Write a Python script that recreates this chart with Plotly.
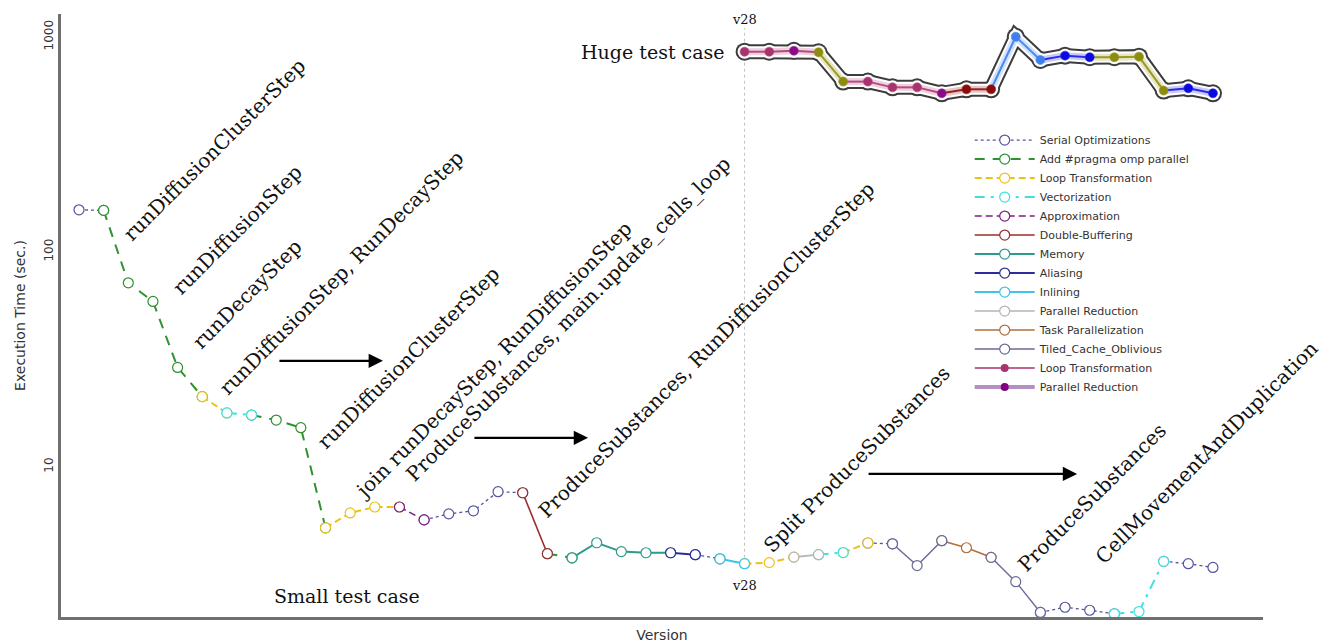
import math
import plotly.graph_objects as go

# ---------------- data ----------------
versions = list(range(1, 48))
small_time = [157, 156, 71.8, 58.8, 29.0, 21.2, 17.8, 17.4, 16.5, 15.2,
              5.2, 6.1, 6.5, 6.5, 5.66, 6.04, 6.24, 7.66, 7.57, 3.94,
              3.77, 4.43, 4.03, 3.98, 3.98, 3.90, 3.73, 3.54, 3.58, 3.80,
              3.90, 3.99, 4.42, 4.38, 3.47, 4.53, 4.20, 3.79, 2.92, 2.10,
              2.22, 2.15, 2.07, 2.12, 3.63, 3.54, 3.40]
# optimisation applied between version i and i+1 (46 steps)
small_step = (["Serial Optimizations"] + ["Add #pragma omp parallel"] * 4 +
              ["Loop Transformation", "Vectorization"] +
              ["Add #pragma omp parallel"] * 3 + ["Loop Transformation"] * 3 +
              ["Approximation"] + ["Serial Optimizations"] * 4 +
              ["Double-Buffering", "Add #pragma omp parallel"] + ["Memory"] * 4 +
              ["Aliasing", "Serial Optimizations", "Inlining"] +
              ["Loop Transformation"] * 2 + ["Parallel Reduction", "Vectorization",
              "Loop Transformation", "Serial Optimizations"] +
              ["Tiled_Cache_Oblivious"] * 2 + ["Task Parallelization"] * 2 +
              ["Tiled_Cache_Oblivious"] * 2 + ["Serial Optimizations"] * 3 +
              ["Vectorization"] * 2 + ["Serial Optimizations"] * 2)

categories = ["Serial Optimizations", "Add #pragma omp parallel", "Loop Transformation",
              "Vectorization", "Approximation", "Double-Buffering", "Memory", "Aliasing",
              "Inlining", "Parallel Reduction", "Task Parallelization", "Tiled_Cache_Oblivious"]

huge_versions = list(range(28, 48))
huge_time = [854, 854, 863, 849, 620, 620, 583, 583, 547, 571,
             571, 1003, 782, 819, 805, 805, 810, 563, 577, 547]
huge_point_kind = ["LT", "LT", "PR", "OL", "OL", "LT", "LT", "LT", "PR", "DB",
                   "DB", "IN", "IN", "AL", "AL", "OL", "OL", "OL", "AL", "AL"]
huge_step_kind = ["LT", "LT", "LT", "OL", "LT", "LT", "LT", "LT", "DB", "DB",
                  "IN", "IN", "AL", "AL", "OL", "OL", "OL", "AL", "AL"]

labels = ["runDiffusionClusterStep", "runDiffusionStep", "runDecayStep",
          "runDiffusionStep, RunDecayStep", "runDiffusionClusterStep",
          "join runDecayStep, RunDiffusionStep", "ProduceSubstances, main.update_cells_loop",
          "ProduceSubstances, RunDiffusionClusterStep", "Split ProduceSubstances",
          "ProduceSubstances", "CellMovementAndDuplication"]
label_x = [6.48, 7.41, 7.82, 11.63, 14.35, 17.8, 20.84, 26.44, 32.56, 42.1, 46.75]
label_logy = [2.474, 2.102, 1.805, 1.902, 1.507, 1.498, 1.688, 1.544, 1.037, 0.860, 1.07]

arrow_x0 = [9.07, 16.98, 32.97]
arrow_x1 = [13.33, 21.65, 41.49]
arrow_logy = [1.493, 1.135, 0.967]

# ---------------- styles ----------------
small_style = {
    "Serial Optimizations": dict(color="#55559e", dash="dot", width=1.3),
    "Add #pragma omp parallel": dict(color="#2f9130", dash="10px,8px", width=2),
    "Loop Transformation": dict(color="#ecc21a", dash="7px,4px", width=2),
    "Vectorization": dict(color="#3fe0e0", dash="10px,6px,3px,6px", width=2),
    "Approximation": dict(color="#7d1d86", dash="7px,4px", width=1.6),
    "Double-Buffering": dict(color="#9a2e2e", dash="solid", width=1.6),
    "Memory": dict(color="#2e9a8a", dash="solid", width=2),
    "Aliasing": dict(color="#2c2c9c", dash="solid", width=2),
    "Inlining": dict(color="#3fc4e6", dash="solid", width=2),
    "Parallel Reduction": dict(color="#b4b4b4", dash="solid", width=1.6),
    "Task Parallelization": dict(color="#b06e3a", dash="solid", width=1.6),
    "Tiled_Cache_Oblivious": dict(color="#6a6a98", dash="solid", width=1.4),
}
huge_style = {
    "LT": dict(point="#a8336e", line="#b8487f"),
    "PR": dict(point="#8a0a8a", line="#9a3a9a"),
    "OL": dict(point="#8c8c10", line="#9a9a20"),
    "DB": dict(point="#8b0a0a", line="#9a2020"),
    "IN": dict(point="#3f7ff0", line="#4a88f2"),
    "AL": dict(point="#0a0ae0", line="#2a2ae8"),
}

fig = go.Figure()

# ---------- small test case ----------
for cat in categories:
    st = small_style[cat]
    xs, ys = [], []
    i = 0
    n = len(small_step)
    while i < n:
        if small_step[i] == cat:
            j = i
            while j + 1 < n and small_step[j + 1] == cat:
                j += 1
            for k in range(i, j + 2):
                xs.append(versions[k])
                ys.append(small_time[k])
            xs.append(None)
            ys.append(None)
            i = j + 1
        else:
            i += 1
    fig.add_trace(go.Scatter(
        x=xs, y=ys, mode="lines+markers", name=cat,
        line=dict(color=st["color"], dash=st["dash"], width=st["width"]),
        marker=dict(symbol="circle", size=10, color="white",
                    line=dict(color=st["color"], width=1.2)),
        connectgaps=False))

# ---------- huge test case (haloed) ----------
fig.add_trace(go.Scatter(x=huge_versions, y=huge_time, mode="lines+markers",
                         line=dict(color="#3c3c3c", width=15),
                         marker=dict(size=18, color="#3c3c3c"),
                         showlegend=False, hoverinfo="skip"))
fig.add_trace(go.Scatter(x=huge_versions, y=huge_time, mode="lines+markers",
                         line=dict(color="#ffffff", width=11),
                         marker=dict(size=14, color="#ffffff"),
                         showlegend=False, hoverinfo="skip"))

def hex_rgba(h, a):
    h = h.lstrip("#")
    return "rgba(%d,%d,%d,%.2f)" % (int(h[0:2], 16), int(h[2:4], 16), int(h[4:6], 16), a)

for kind, st in huge_style.items():
    xs, ys = [], []
    for k, s in enumerate(huge_step_kind):
        if s == kind:
            xs += [huge_versions[k], huge_versions[k + 1], None]
            ys += [huge_time[k], huge_time[k + 1], None]
    if xs:
        fig.add_trace(go.Scatter(x=xs, y=ys, mode="lines",
                                 line=dict(color=hex_rgba(st["line"], 0.25), width=7),
                                 showlegend=False, hoverinfo="skip"))
        fig.add_trace(go.Scatter(x=xs, y=ys, mode="lines",
                                 line=dict(color=st["line"], width=2),
                                 showlegend=False, hoverinfo="skip"))

for kind, st in huge_style.items():
    xs = [huge_versions[k] for k, p in enumerate(huge_point_kind) if p == kind]
    ys = [huge_time[k] for k, p in enumerate(huge_point_kind) if p == kind]
    fig.add_trace(go.Scatter(x=xs, y=ys, mode="markers",
                             marker=dict(size=9, color=st["point"],
                                         line=dict(color=hex_rgba(st["line"], 0.6), width=1)),
                             showlegend=False))

# legend entries for the filled-marker series
fig.add_trace(go.Scatter(x=[None], y=[None], mode="lines+markers", name="Loop Transformation",
                         line=dict(color="#a8336e", width=1.5),
                         marker=dict(size=8, color="#a8336e")))
fig.add_trace(go.Scatter(x=[None], y=[None], mode="lines+markers", name="Parallel Reduction",
                         line=dict(color="#b58ec4", width=4),
                         marker=dict(size=8, color="#800080")))

# ---------------- annotations ----------------
serif = "DejaVu Serif"
ann = []
for t, x, ly in zip(labels, label_x, label_logy):
    ann.append(dict(x=x, y=ly, xref="x", yref="y", text=t, showarrow=False,
                    textangle=-45, xanchor="center", yanchor="middle",
                    font=dict(family=serif, size=20, color="#111")))
for x0, x1, ly in zip(arrow_x0, arrow_x1, arrow_logy):
    ann.append(dict(x=x1, y=ly, ax=x0, ay=ly, xref="x", yref="y", axref="x", ayref="y",
                    text="", showarrow=True, arrowhead=2, arrowsize=1.3, arrowwidth=2.2,
                    arrowcolor="#000", standoff=0, startstandoff=0))
ann.append(dict(x=huge_versions[0], y=math.log10(huge_time[0]), xref="x", yref="y",
                text="v28", showarrow=False, yshift=32,
                font=dict(family=serif, size=13, color="#111")))
ann.append(dict(x=versions[27], y=math.log10(small_time[27]), xref="x", yref="y",
                text="v28", showarrow=False, yshift=-22,
                font=dict(family=serif, size=13, color="#111")))
ann.append(dict(x=huge_versions[0], y=math.log10(huge_time[0]), xref="x", yref="y",
                text="Huge test case", showarrow=False, xanchor="right", xshift=-18,
                font=dict(family=serif, size=19, color="#111")))
ann.append(dict(x=11.87, y=0.40, xref="x", yref="y", text="Small test case",
                showarrow=False, font=dict(family=serif, size=19, color="#111")))

shapes = [dict(type="line", xref="x", yref="y",
               x0=versions[27], x1=versions[27],
               y0=small_time[27], y1=1100,
               line=dict(color="#c0c0c0", width=1, dash="dot"), layer="below")]

fig.update_layout(
    width=1330, height=643,
    margin=dict(l=61, r=67, t=14, b=26),
    paper_bgcolor="white", plot_bgcolor="white",
    font=dict(family="DejaVu Sans", color="#333"),
    showlegend=True,
    legend=dict(x=0.756, y=0.815, xanchor="left", yanchor="top", itemwidth=60,
                bgcolor="rgba(255,255,255,0)", font=dict(size=11, color="#333"),
                traceorder="normal"),
    annotations=ann, shapes=shapes,
    xaxis=dict(range=[0.27, 49.03], showline=True, linecolor="#707070", linewidth=3,
               showgrid=False, zeroline=False, showticklabels=False, ticks="",
               automargin=False,
               title=dict(text="Version", font=dict(size=14, color="#333"), standoff=16)),
    yaxis=dict(type="log", range=[0.301, 3.107], showline=True, linecolor="#707070",
               linewidth=3, showgrid=False, zeroline=False, ticks="", automargin=False,
               tickvals=[10, 100, 1000], ticktext=["10", "100", "1000"], tickangle=-90,
               tickfont=dict(size=12, color="#333"),
               title=dict(text="Execution Time (sec.)", font=dict(size=14, color="#333"),
                          standoff=14)),
)

fig.write_html("out.html")
